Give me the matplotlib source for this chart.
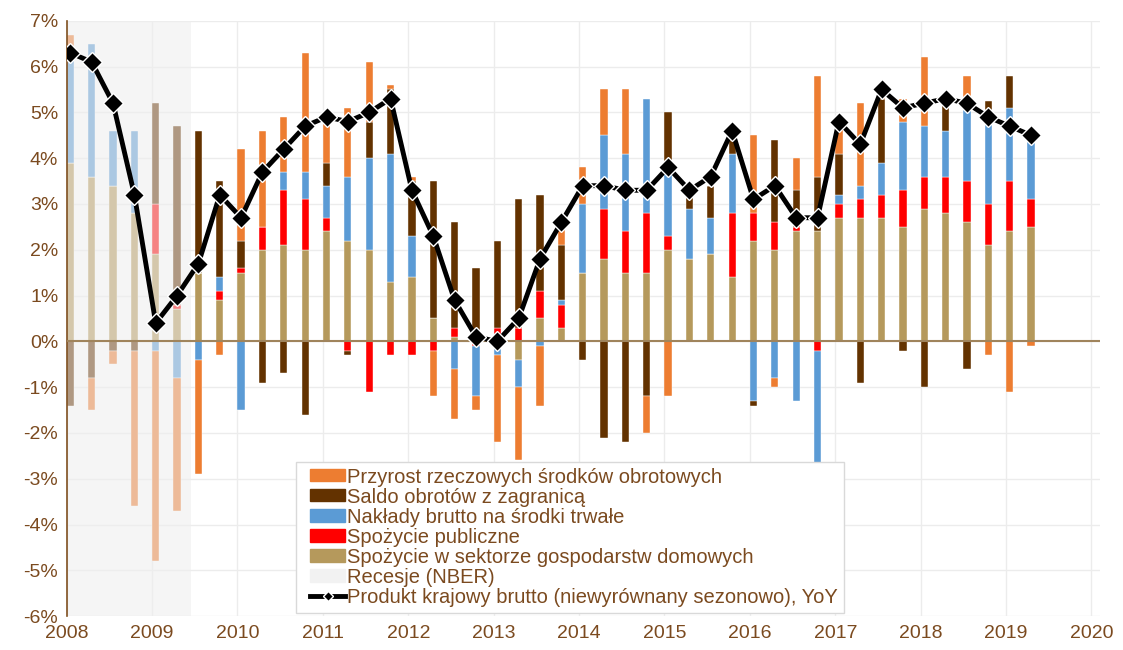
import numpy as np
import matplotlib.pyplot as plt
from matplotlib.patches import Patch, Rectangle
from matplotlib.lines import Line2D
from matplotlib.legend_handler import HandlerPatch, HandlerLine2D
from matplotlib.ticker import FuncFormatter

plt.rcParams['font.family'] = ['Liberation Sans', 'DejaVu Sans']

# quarterly contributions to GDP growth, 2008Q1 - 2019Q2 (pp)
households = [3.9, 3.6, 3.4, 2.8, 1.9, 0.7, 1.5, 0.9,
              1.5, 2.0, 2.1, 2.0, 2.4, 2.2, 2.0, 1.3,
              1.4, 0.5, 0.1, 0.0, 0.0, -0.4, 0.5, 0.3,
              1.5, 1.8, 1.5, 1.5, 2.0, 1.8, 1.9, 1.4,
              2.2, 2.0, 2.4, 2.4, 2.7, 2.7, 2.7, 2.5,
              2.9, 2.8, 2.6, 2.1, 2.4, 2.5]
public = [0.0, 0.0, 0.0, 0.0, 1.1, 0.1, 0.0, 0.2,
          0.1, 0.5, 1.2, 1.1, 0.3, -0.2, -1.1, -0.3,
          -0.3, -0.2, 0.2, -0.1, 0.3, 0.3, 0.6, 0.5,
          0.0, 1.1, 0.9, 1.3, 0.3, 0.0, 0.0, 1.4,
          0.6, 0.6, 0.1, -0.2, 0.3, 0.4, 0.5, 0.8,
          0.7, 0.8, 0.9, 0.9, 1.1, 0.6]
investment = [2.5, 2.9, 1.2, 1.8, -0.2, -0.8, -0.4, 0.3,
              -1.5, 0.0, 0.4, 0.6, 0.7, 1.4, 2.0, 2.8,
              0.9, 0.0, -0.6, -1.1, -0.3, -0.6, -0.1, 0.1,
              1.5, 1.6, 1.7, 2.5, 1.5, 1.1, 0.8, 1.3,
              -1.3, -0.8, -1.3, -3.0, 0.2, 0.3, 0.7, 1.5,
              1.1, 1.0, 1.7, 2.05, 1.6, 1.3]
net_exports = [-1.4, -0.8, -0.2, -0.2, 2.2, 3.9, 3.1, 2.1,
               0.6, -0.9, -0.7, -1.6, 0.5, -0.1, 0.8, 1.4,
               1.2, 3.0, 2.3, 1.6, 1.9, 2.8, 2.1, 1.2,
               -0.4, -2.1, -2.2, -1.2, 1.2, 0.3, 0.7, 0.3,
               -0.1, 1.8, 0.8, 1.2, 0.9, -0.9, 1.4, -0.2,
               -1.0, 0.6, -0.6, 0.2, 0.7, 0.0]
inventories = [0.3, -0.7, -0.3, -3.4, -4.6, -2.9, -2.5, -0.3,
               2.0, 2.1, 1.2, 2.6, 1.0, 1.5, 1.3, 0.1,
               0.1, -1.0, -1.1, -0.3, -1.9, -1.6, -1.3, 0.35,
               0.8, 1.0, 1.4, -0.8, -1.2, 0.0, 0.0, 0.0,
               1.7, -0.2, 0.7, 2.2, 0.6, 1.8, 0.1, 0.5,
               1.5, 0.0, 0.6, -0.3, -1.1, -0.1]
gdp = [6.3, 6.1, 5.2, 3.2, 0.4, 1.0, 1.7, 3.2,
       2.7, 3.7, 4.2, 4.7, 4.9, 4.8, 5.0, 5.3,
       3.3, 2.3, 0.9, 0.1, 0.0, 0.5, 1.8, 2.6,
       3.4, 3.4, 3.3, 3.3, 3.8, 3.3, 3.6, 4.6,
       3.1, 3.4, 2.7, 2.7, 4.8, 4.3, 5.5, 5.1,
       5.2, 5.3, 5.2, 4.9, 4.7, 4.5]

labels = ["Spożycie w sektorze gospodarstw domowych",
          "Spożycie publiczne",
          "Nakłady brutto na środki trwałe",
          "Saldo obrotów z zagranicą",
          "Przyrost rzeczowych środków obrotowych"]
colors = ["#b5995c", "#ff0000", "#5b9bd5", "#633200", "#ed7d31"]
series = [households, public, investment, net_exports, inventories]

recession = (2008.0, 2009.45)
years = list(range(2008, 2021))

txt_color = "#7b4a1f"
t = 2008 + 0.25 * np.arange(len(gdp))
bw = 0.085

fig = plt.figure(figsize=(11.23, 6.5), dpi=100)
ax = fig.add_axes([0.0594, 0.052, 0.9201, 0.916])

pos = np.zeros(len(gdp))
neg = np.zeros(len(gdp))
for vals, c in zip(series, colors):
    v = np.array(vals)
    bottom = np.where(v >= 0, pos, neg)
    ax.bar(t, v, width=bw, bottom=bottom, align="edge", color=c,
           edgecolor="white", linewidth=0.3, zorder=2)
    pos += np.where(v >= 0, v, 0)
    neg += np.where(v < 0, v, 0)

ax.axvspan(recession[0], recession[1], color="#eeeeee", alpha=0.55,
           linewidth=0, zorder=2.5)
ax.axhline(0, color="#a0845c", linewidth=1.5, zorder=2.6)

ax.plot(t + bw / 2, gdp, color="black", linewidth=3.5, marker="D",
        markersize=10, markerfacecolor="black", markeredgecolor="white",
        markeredgewidth=1.0, zorder=4)

ax.set_xlim(2008, 2020.1)
ax.set_ylim(-6, 7)
ax.set_xticks(years)
ax.set_yticks(range(-6, 8))
ax.yaxis.set_major_formatter(FuncFormatter(lambda v, p: f"{int(v)}%"))
ax.tick_params(length=0, labelsize=14, labelcolor=txt_color, pad=6)
ax.grid(True, color="#ececec", linewidth=1.0, zorder=0)
ax.set_axisbelow(True)
for s in ["top", "right", "bottom"]:
    ax.spines[s].set_visible(False)
ax.spines["left"].set_color("#7f4f1f")
ax.spines["left"].set_linewidth(1.2)

# legend handles start a bit inside the frame, like in the original
OFF = 6.0


def inset_patch(legend, orig_handle, xdescent, ydescent, width, height, fontsize):
    return Rectangle((-xdescent + OFF, -ydescent), width - OFF, height)


class InsetLine(HandlerLine2D):
    def get_xdata(self, legend, xdescent, ydescent, width, height, fontsize):
        xd, xm = super().get_xdata(legend, xdescent, ydescent, width, height, fontsize)
        xd = np.asarray(xd, float)
        xd = xd[0] + OFF + (xd - xd[0]) * (width - OFF) / width
        return xd, np.asarray(xm, float) + OFF / 2


handles = [Patch(color=colors[4]), Patch(color=colors[3]), Patch(color=colors[2]),
           Patch(color=colors[1]), Patch(color=colors[0]), Patch(color="#f2f2f2"),
           Line2D([], [], color="black", linewidth=3.5, marker="D", markersize=5,
                  markerfacecolor="black", markeredgecolor="white")]
leg_labels = [labels[4], labels[3], labels[2], labels[1], labels[0],
              "Recesje (NBER)",
              "Produkt krajowy brutto (niewyrównany sezonowo), YoY"]
hmap = {h: HandlerPatch(patch_func=inset_patch) for h in handles[:6]}
hmap[handles[6]] = InsetLine()
leg = ax.legend(handles, leg_labels, loc="lower left", bbox_to_anchor=(0.222, 0.006),
                handler_map=hmap,
                fontsize=14.5, frameon=True, fancybox=False, framealpha=1,
                edgecolor="#d9d9d9", labelspacing=0.05, handlelength=2.15,
                handleheight=0.55, handletextpad=0.1, borderpad=0.3,
                borderaxespad=0)
leg.set_zorder(5)
for tx in leg.get_texts():
    tx.set_color(txt_color)

fig.savefig("out.png", dpi=100)
